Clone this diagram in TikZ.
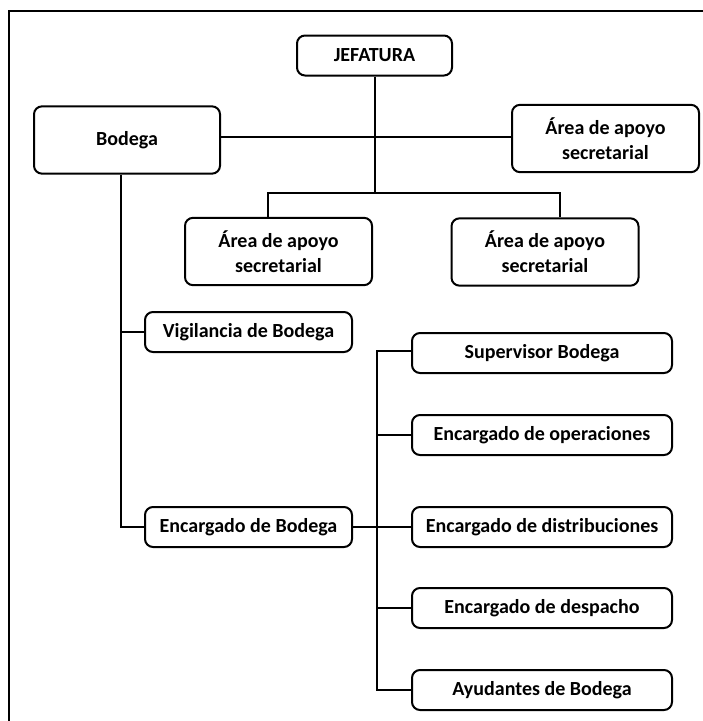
\documentclass[tikz,border=0pt]{standalone}
\usepackage{fontspec}
\setmainfont{Carlito}
\begin{document}
\begin{tikzpicture}[x=0.75pt,y=-0.75pt,
  conn/.style={line width=1.5pt},
  box/.style={draw, line width=1.5pt, rounded corners=6pt, align=center,
    font=\fontsize{15}{19}\selectfont\bfseries, inner sep=0pt},
  bigbox/.style={box, minimum width=140.25pt, minimum height=50.5pt},
  smallbox/.style={box, minimum width=155.25pt, minimum height=30pt},
  rbox/.style={box, minimum width=195pt, minimum height=30pt}]
\useasboundingbox (0,0) rectangle (703,721);
\draw[line width=1.5pt] (9,725) -- (9,11) -- (707,11);

\node[box, minimum width=116.25pt, minimum height=30pt] (jef) at (374.5,55.5) {JEFATURA};
\node[bigbox, minimum width=139.5pt] (bod) at (127,140) {Bodega};
\node[bigbox] (ar) at (605.5,138.5) {Área de apoyo\\secretarial};
\node[bigbox] (al) at (278.5,251.5) {Área de apoyo\\secretarial};
\node[bigbox] (am) at (545,252) {Área de apoyo\\secretarial};
\node[smallbox] (vig) at (248.5,332) {Vigilancia de Bodega};
\node[smallbox] (enc) at (248.5,527) {Encargado de Bodega};
\node[rbox] (sup) at (542,353) {Supervisor Bodega};
\node[rbox] (ope) at (542,435) {Encargado de operaciones};
\node[rbox] (dis) at (542,527) {Encargado de distribuciones};
\node[rbox] (des) at (542,608) {Encargado de despacho};
\node[rbox] (ayu) at (542,690) {Ayudantes de Bodega};

\coordinate (jl) at (268,193);
\coordinate (jr) at (560,193);
\coordinate (bv) at (121,0);
\coordinate (rv) at (377,0);

\draw[conn] (bod.east |- 0,137) -- (ar.west |- 0,137);
\draw[conn] (jef.south) -- (jef.south |- jl);
\draw[conn] (jl |- al.north) -- (jl) -- (jr) -- (jr |- am.north);
\draw[conn] (bv |- bod.south) -- (bv |- enc.west) -- (enc.west);
\draw[conn] (bv |- vig.west) -- (vig.west);
\draw[conn] (enc.east) -- (dis.west);
\draw[conn] (sup.west |- 0,351) -- (rv |- 0,351) -- (rv |- ayu.west) -- (ayu.west);
\draw[conn] (rv |- ope.west) -- (ope.west);
\draw[conn] (rv |- des.west) -- (des.west);
\end{tikzpicture}
\end{document}
